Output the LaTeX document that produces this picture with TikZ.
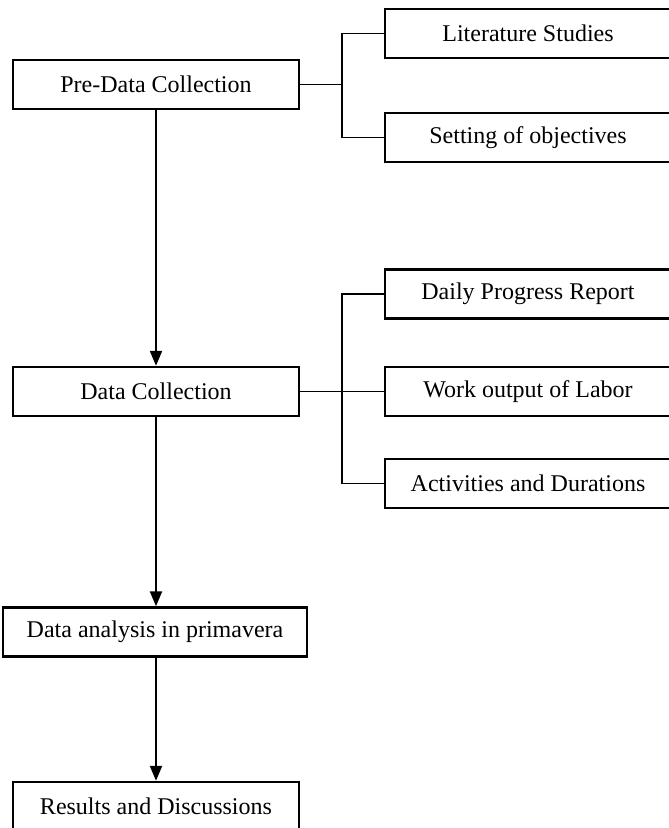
\documentclass[tikz,border=0pt]{standalone}
\usepackage{fontspec}
\setmainfont{Liberation Serif}
\usetikzlibrary{arrows.meta}
\begin{document}
\begin{tikzpicture}[x=1pt,y=-1pt,
  box/.style={draw=black, line width=2.4pt, minimum height=49pt, inner sep=0pt,
    font=\fontsize{24}{28}\selectfont, anchor=center},
  leftbox/.style={box, minimum width=286pt},
  rightbox/.style={box, minimum width=286pt},
  widebox/.style={box, minimum width=304pt},
  link/.style={draw=black, line width=1.6pt},
  arr/.style={draw=black, line width=2.2pt, -{Triangle[length=15pt,width=12pt]}}]
\useasboundingbox (0,0) rectangle (669,828);
\clip (0,0) rectangle (669,828);
% main column
\node[leftbox] (pre) at (156,84.5) {Pre-Data Collection};
\node[leftbox] (dc) at (156,391.5) {Data Collection};
\node[widebox] (da) at (155,632) {Data analysis in primavera};
\node[leftbox] (res) at (156,806.5) {Results and Discussions};
% right column
\node[rightbox] (lit) at (528,33.5) {Literature Studies};
\node[rightbox] (obj) at (528,137.5) {Setting of objectives};
\node[rightbox] (dpr) at (528,294) {Daily Progress Report};
\node[rightbox] (wol) at (528,391.5) {Work output of Labor};
\node[rightbox] (act) at (528,483.5) {Activities and Durations};
% bracket coordinates
\coordinate (b1) at (342,0);
% bracket 1
\draw[link] (pre.east) -- (pre.east -| b1);
\draw[link] (lit.west) -- (lit.west -| b1) -- (obj.west -| b1) -- (obj.west);
% bracket 2
\draw[link] (dc.east) -- (wol.west);
\draw[link] (dpr.west) -- (dpr.west -| b1) -- (act.west -| b1) -- (act.west);
% arrows
\draw[arr] (pre.south) -- (dc.north);
\draw[arr] (dc.south) -- (dc.south |- da.north);
\draw[arr] (dc.south |- da.south) -- (res.north);
\end{tikzpicture}
\end{document}
